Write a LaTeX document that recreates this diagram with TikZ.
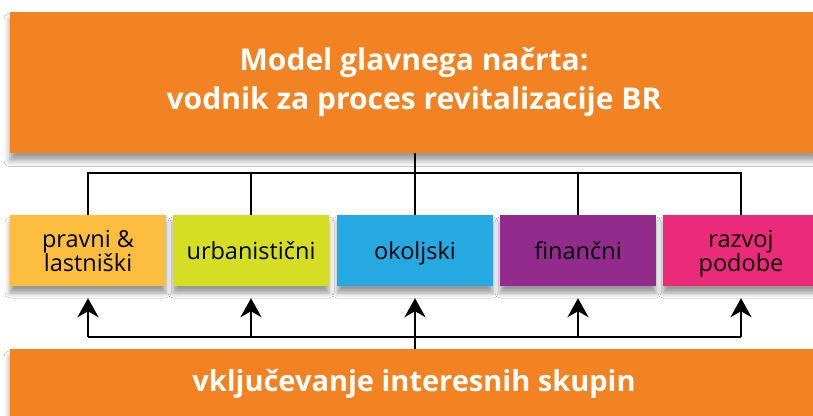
\documentclass[tikz,border=0pt]{standalone}
\usepackage{fontspec}
\setmainfont{Open Sans}
\usetikzlibrary{arrows.meta,shadows.blur}
\definecolor{orng}{HTML}{F38322}
\definecolor{cyel}{HTML}{FDBE40}
\definecolor{clime}{HTML}{D5DE23}
\definecolor{cblue}{HTML}{26A8E0}
\definecolor{cpurp}{HTML}{922B8C}
\definecolor{cpink}{HTML}{EC2A7A}
\begin{document}
\begin{tikzpicture}[x=1pt,y=-1pt,
  bigbox/.style={fill=orng, draw=none, text=white, align=center, inner sep=0pt,
    blur shadow={shadow xshift=0pt, shadow yshift=-8pt, shadow blur radius=6pt, shadow opacity=40}},
  catbox/.style={minimum width=156pt, minimum height=71pt, inner sep=0pt, align=center,
    font=\fontsize{23.5}{24}\selectfont, text depth=0pt,
    blur shadow={shadow xshift=0pt, shadow yshift=-7pt, shadow blur radius=5pt, shadow opacity=40}},
  conn/.style={line width=2.5pt, black},
  arr/.style={conn, -{Stealth[length=19pt,width=21pt,inset=6pt]}, shorten >=12pt}]
\useasboundingbox (0,0) rectangle (813,415);
\fill[white] (0,0) rectangle (813,415);
% top box
\node[bigbox, minimum width=808pt, minimum height=141pt,
  font=\fontsize{30}{39}\selectfont\bfseries] (top) at (414,82)
  {Model glavnega načrta:\\vodnik za proces revitalizacije BR};
% bottom box
\node[bigbox, minimum width=808pt, minimum height=70pt,
  font=\fontsize{29}{32}\selectfont\bfseries] (bot) at (414,384)
  {vključevanje interesnih skupin};
% category boxes
\node[catbox, fill=cyel]  (b1) at (88,250.5)  {pravni \&\\lastniški};
\node[catbox, fill=clime] (b2) at (251,250.5) {urbanistični};
\node[catbox, fill=cblue] (b3) at (415,250.5) {okoljski};
\node[catbox, fill=cpurp] (b4) at (578,250.5) {finančni};
\node[catbox, fill=cpink] (b5) at (741,250.5) {razvoj\\podobe};
% connectors top
\coordinate (h) at (0,173);
\draw[conn] (b3.north |- top.south) -- (b3.north);
\draw[conn] (b1.north) -- (b1.north |- h) -- (b5.north |- h) -- (b5.north);
\draw[conn] (b2.north) -- (b2.north |- h);
\draw[conn] (b4.north) -- (b4.north |- h);
% connectors bottom
\coordinate (g) at (0,337);
\draw[conn] (b1.south |- g) -- (b5.south |- g);
\draw[conn] (b3.south |- bot.north) -- (b3.south |- g);
\foreach \b in {b1,b2,b3,b4,b5}
  \draw[arr] (\b.south |- g) -- (\b.south);
\end{tikzpicture}
\end{document}
